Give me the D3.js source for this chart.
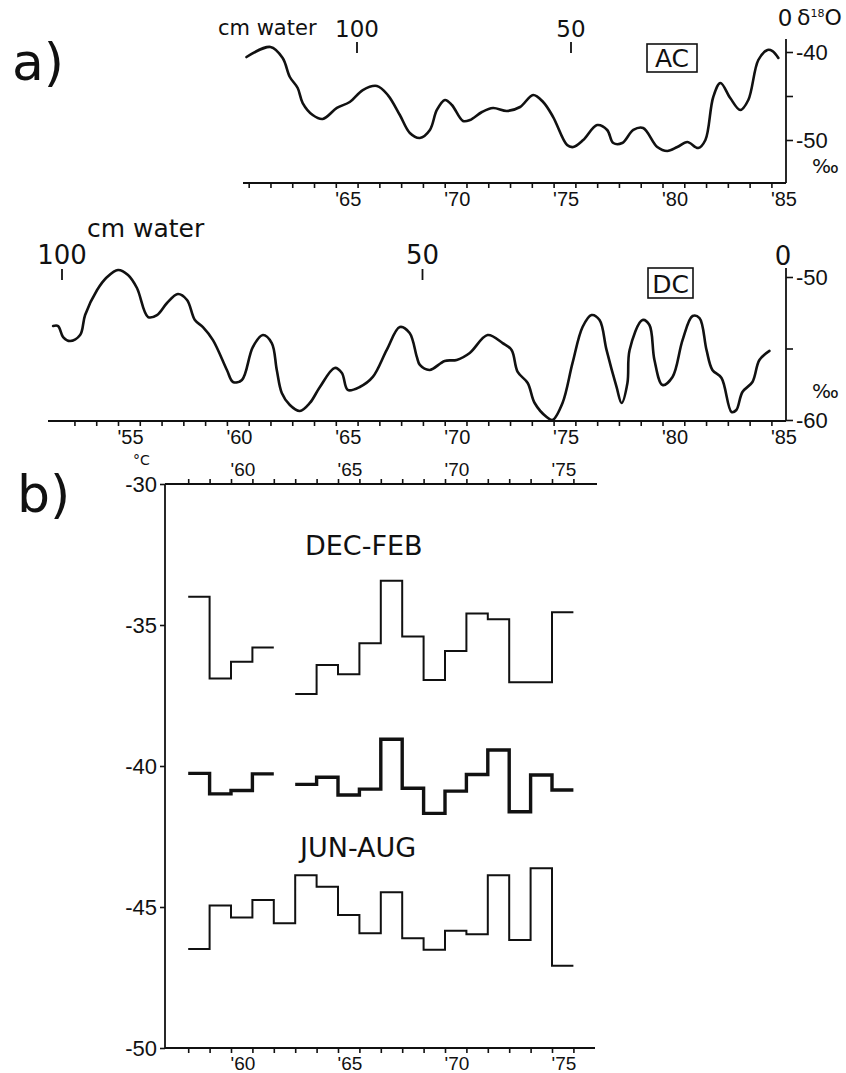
<!DOCTYPE html>
<html>
<head>
<meta charset="utf-8">
<script src="https://cdn.jsdelivr.net/npm/d3@7"></script>
<style>
  body { margin: 0; background: #fff; }
  svg  { display: block; font-family: "DejaVu Sans", sans-serif; fill: #111; }
  .curve { fill: none; stroke: #111; stroke-width: 2.6; stroke-linejoin: round; stroke-linecap: round; }
  .step  { fill: none; stroke: #111; stroke-width: 2; }
  .step.annual { stroke-width: 3.4; }
  .axline { stroke: #111; stroke-width: 1.8; }
  .ax line { stroke: #111; stroke-width: 1.6; }
  .ax text { fill: #111; }
  .box { fill: none; stroke: #111; stroke-width: 1.6; }
</style>
</head>
<body>
<div id="chart"></div>
<script>
// ── a) δ18O curves (year, ‰) ───────────────────────────────────────────────
const acYears = [60.9, 62.0, 62.56, 62.89, 63.25, 63.48, 63.94, 64.40, 65.05, 65.64, 66.24, 66.89, 67.39, 67.94,
  68.40, 68.86, 69.32, 69.64, 70.01, 70.33, 70.84, 71.16, 71.71, 72.22, 72.86, 73.46, 74.06, 74.52, 74.98, 75.62,
  75.90, 76.36, 77.0, 77.46, 77.74, 78.15, 78.66, 79.11, 79.76, 80.22, 80.68, 81.14, 81.64, 81.97, 82.33, 82.66,
  83.11, 83.57, 83.94, 84.40, 84.82, 85.05, 85.32];
const acD18O = [-40.57, -39.43, -40.68, -42.84, -44.09, -45.8, -47.16, -47.61, -46.36, -45.68, -44.32, -43.86, -44.89, -47.16,
  -49.2, -49.77, -48.86, -46.59, -45.45, -46.02, -47.84, -47.73, -46.82, -46.36, -46.70, -46.25, -44.89, -45.68, -47.39, -50.57,
  -50.8, -50.0, -48.3, -48.86, -50.34, -50.34, -48.86, -48.64, -50.8, -51.25, -50.8, -50.23, -50.91, -50.0, -45.11, -43.52,
  -45.23, -46.59, -45.45, -40.91, -39.77, -39.89, -40.68];

const dcYears = [52.02, 52.25, 52.48, 52.80, 53.26, 53.49, 54.04, 54.50, 55.0, 55.46, 55.87, 56.38, 56.79, 57.25, 57.75,
  58.17, 58.53, 58.90, 59.36, 60.0, 60.28, 60.69, 61.19, 61.65, 62.06, 62.29, 62.52, 62.89, 63.35, 63.81, 64.27, 64.95,
  65.28, 65.55, 66.10, 66.70, 67.34, 67.94, 68.39, 68.72, 68.86, 69.31, 70.0, 70.55, 71.15, 71.97, 72.66, 73.07, 73.35,
  73.81, 74.13, 74.68, 74.95, 75.41, 75.87, 76.33, 76.74, 77.11, 77.43, 77.89, 78.12, 78.39, 78.49, 79.08, 79.40, 79.63,
  80.0, 80.46, 80.92, 81.38, 81.70, 82.02, 82.29, 82.71, 83.17, 83.39, 83.67, 84.13, 84.45, 84.91];
const dcD18O = [-53.43, -53.43, -54.20, -54.48, -54.06, -52.66, -50.91, -50.0, -49.51, -49.86, -50.77, -52.80, -52.66, -51.82, -51.19,
  -51.61, -53.01, -53.50, -54.41, -56.50, -57.34, -57.20, -54.90, -54.06, -54.62, -56.50, -58.11, -58.95, -59.37, -58.81, -57.69, -56.36,
  -56.71, -57.90, -57.69, -56.99, -55.10, -53.50, -53.92, -55.59, -56.15, -56.50, -55.87, -55.80, -55.31, -54.06, -54.62, -55.10, -56.64,
  -57.41, -58.81, -59.79, -60.0, -58.81, -56.01, -53.50, -52.66, -53.01, -55.10, -57.69, -58.81, -57.41, -55.10, -53.01, -53.36, -55.80,
  -57.55, -56.99, -54.41, -52.73, -52.87, -55.10, -56.50, -57.06, -59.44, -59.30, -58.04, -57.34, -55.80, -55.17];

const cmTicks = [100, 50, 0];

// ── b) seasonal temperature (°C), one value per year, null = gap ──────────
const seasonYears = [58, 59, 60, 61, 62, 63, 64, 65, 66, 67, 68, 69, 70, 71, 72, 73, 74, 75];
const decFeb = [-34.0, -36.9, -36.3, -35.8, null, -37.45, -36.42, -36.75, -35.65, -33.43, -35.41, -36.95, -35.92, -34.59, -34.8, -37.03, -37.03, -34.55];
const annual = [-40.26, -40.99, -40.87, -40.28, null, -40.65, -40.40, -41.03, -40.82, -39.05, -40.79, -41.68, -40.89, -40.30, -39.43, -41.62, -40.32, -40.85];
const junAug = [-46.49, -44.95, -45.37, -44.75, -45.58, -43.87, -44.28, -45.28, -45.93, -44.48, -46.11, -46.52, -45.84, -45.97, -43.87, -46.17, -43.63, -47.08];
const tempTicks = [-30, -35, -40, -45, -50];

const W = 846, H = 1073;
const svg = d3.select('#chart').append('svg').attr('width', W).attr('height', H);

// ── scales ────────────────────────────────────────────────────────────────
const xA   = d3.scaleLinear().domain([55, 85]).range([118, 771.4]);
const yAC  = d3.scaleLinear().domain([-40, -50]).range([52, 140]);
const yDC  = d3.scaleLinear().domain([-50, -60]).range([277, 420]);
const cmAC = d3.scaleLinear().domain([100, 0]).range([357, 785]);
const cmDC = d3.scaleLinear().domain([100, 0]).range([62, 783]);
const xB   = d3.scaleLinear().domain([60, 75]).range([231, 552]);
const yB   = d3.scaleLinear().domain([-30, -50]).range([484, 1048]);

const yrFmt = d => (d % 5 ? '' : "'" + d);

function hline(x1, x2, y) {
  svg.append('line').attr('class', 'axline').attr('x1', x1).attr('x2', x2).attr('y1', y).attr('y2', y);
}
function vline(x, y1, y2) {
  svg.append('line').attr('class', 'axline').attr('x1', x).attr('x2', x).attr('y1', y1).attr('y2', y2);
}
function label(x, y, txt, size, anchor) {
  return svg.append('text').attr('x', x).attr('y', y).attr('font-size', size)
    .attr('text-anchor', anchor || 'start').text(txt);
}

// ── one δ18O panel ───────────────────────────────────────────────────────
function panelA(o) {
  const { years, vals, y, cm, axisY, x0, yearTicks, topY, name, box, cmSize, cmLabelY, zeroY, cmWordX, cmWordY, wordSize, permilY } = o;

  // year axis along the bottom
  hline(x0, 786, axisY);
  const gx = svg.append('g').attr('class', 'ax').attr('transform', `translate(0,${axisY})`)
    .call(d3.axisBottom(xA).tickValues(yearTicks).tickSize(5).tickPadding(4).tickFormat(yrFmt));
  gx.select('.domain').remove();
  gx.selectAll('text').attr('text-anchor', 'start').attr('x', -1).attr('font-size', 20).attr('font-family', null);

  // δ18O axis on the right
  vline(786, topY, axisY);
  const gy = svg.append('g').attr('class', 'ax').attr('transform', 'translate(786,0)')
    .call(d3.axisRight(y).tickValues(y.domain().concat(d3.mean(y.domain()))).tickSize(7).tickPadding(3)
      .tickFormat(d => (d % 10 ? '' : String(d))));
  gy.select('.domain').remove();
  gy.selectAll('text').attr('font-size', 22).attr('font-family', null);
  label(812, permilY, '‰', 20);

  // depth scale (cm water) across the top
  cmTicks.forEach(c => {
    label(cm(c), c === 0 ? zeroY : cmLabelY, String(c), cmSize, 'middle');
    if (c > 0) vline(cm(c), cmLabelY + 5, cmLabelY + 16);
  });
  label(cmWordX, cmWordY, 'cm water', wordSize);

  // the curve
  const pts = years.map((d, i) => [d, vals[i]]);
  svg.append('path').datum(pts).attr('class', 'curve')
    .attr('d', d3.line().x(d => xA(d[0])).y(d => y(d[1])).curve(d3.curveCatmullRom.alpha(0.5)));

  // boxed core name
  svg.append('rect').attr('class', 'box').attr('x', box[0]).attr('y', box[1]).attr('width', box[2]).attr('height', box[3]);
  label(box[0] + box[2] / 2, box[1] + box[3] - 5, name, 25, 'middle');
}

panelA({
  years: acYears, vals: acD18O, y: yAC, cm: cmAC, axisY: 183, x0: 243, topY: 39,
  yearTicks: d3.range(61, 86), name: 'AC', box: [647, 44, 50, 28],
  cmSize: 23, cmLabelY: 37, zeroY: 26, cmWordX: 218, cmWordY: 35, wordSize: 21, permilY: 173
});
panelA({
  years: dcYears, vals: dcD18O, y: yDC, cm: cmDC, axisY: 421, x0: 48, topY: 268,
  yearTicks: d3.range(53, 86), name: 'DC', box: [648, 268, 45, 30],
  cmSize: 26, cmLabelY: 264, zeroY: 265, cmWordX: 87, cmWordY: 237, wordSize: 25, permilY: 398
});

// δ18O heading beside the top zero
const dh = svg.append('text').attr('x', 797).attr('y', 25).attr('font-size', 22);
dh.append('tspan').text('δ');
dh.append('tspan').attr('font-size', 11).attr('dy', -8).text('18');
dh.append('tspan').attr('dy', 8).text('O');

label(12, 80, 'a)', 52);

// ── b) seasonal temperatures ─────────────────────────────────────────────
label(17, 512, 'b)', 52);

vline(165, 484, 1048);
hline(165, 597, 484);
hline(165, 595, 1048);

const gl = svg.append('g').attr('class', 'ax').attr('transform', 'translate(165,0)')
  .call(d3.axisLeft(yB).tickValues(tempTicks).tickSize(5).tickPadding(3).tickFormat(d => String(d)));
gl.select('.domain').remove();
gl.selectAll('text').attr('font-size', 22).attr('font-family', null);
label(133, 465, '°C', 14);

const bTicks = seasonYears.concat([76]);
const gt = svg.append('g').attr('class', 'ax').attr('transform', 'translate(0,484)')
  .call(d3.axisTop(xB).tickValues(bTicks).tickSize(5).tickPadding(3).tickFormat(yrFmt));
const gb = svg.append('g').attr('class', 'ax').attr('transform', 'translate(0,1048)')
  .call(d3.axisBottom(xB).tickValues(bTicks).tickSize(5).tickPadding(4).tickFormat(yrFmt));
[gt, gb].forEach(g => {
  g.select('.domain').remove();
  g.selectAll('text').attr('text-anchor', 'start').attr('x', -1).attr('font-size', 19).attr('font-family', null);
});

// split a yearly series into contiguous runs; each run ends one year after its last value
function runs(vals) {
  const out = [];
  let cur = null;
  vals.forEach((v, i) => {
    if (v == null) { cur = null; return; }
    if (!cur) { cur = []; out.push(cur); }
    cur.push([seasonYears[i], v]);
  });
  out.forEach(r => { const last = r[r.length - 1]; r.push([last[0] + 1, last[1]]); });
  return out;
}

const stepLine = d3.line().x(d => xB(d[0])).y(d => yB(d[1])).curve(d3.curveStepAfter);
[['decfeb', decFeb], ['annual', annual], ['junaug', junAug]].forEach(([cls, vals]) => {
  svg.selectAll(null).data(runs(vals)).enter().append('path')
    .attr('class', 'step ' + cls).attr('d', stepLine);
});

label(305, 555, 'DEC-FEB', 27);
label(300, 857, 'JUN-AUG', 27);
</script>
</body>
</html>
